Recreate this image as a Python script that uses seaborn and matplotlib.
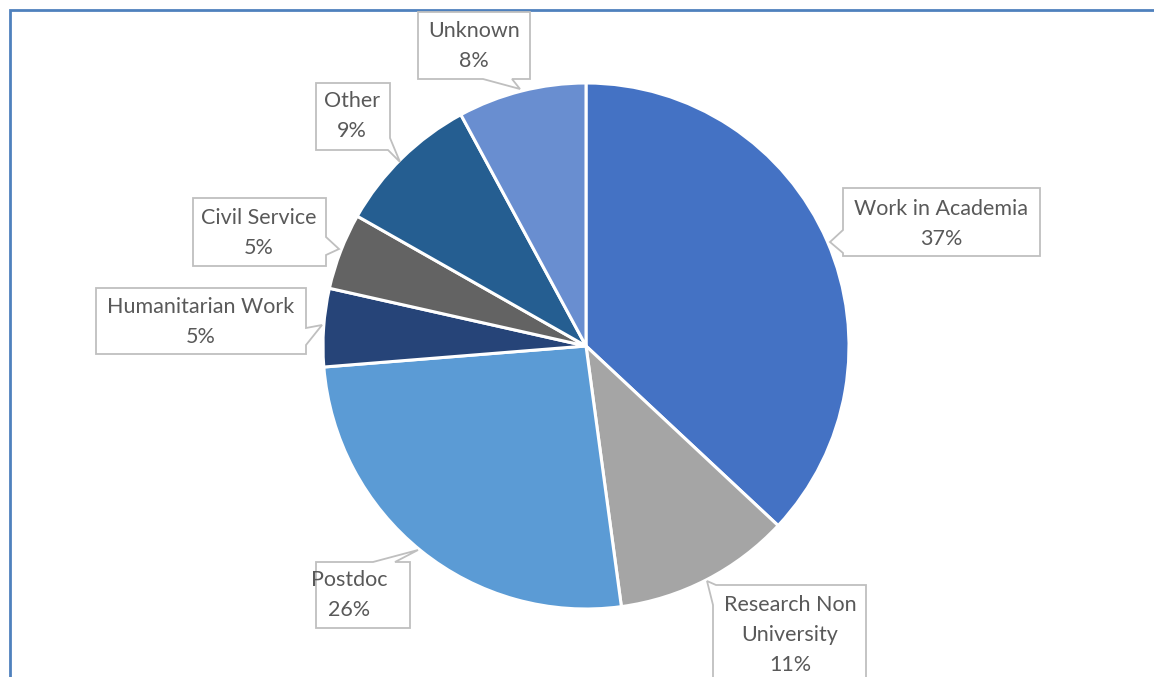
import matplotlib
matplotlib.use("Agg")
import matplotlib.pyplot as plt
import seaborn as sns
from matplotlib.patches import Polygon, Rectangle

# ---- data ----
categories = ["Work in Academia", "Research Non\nUniversity", "Postdoc",
              "Humanitarian Work", "Civil Service", "Other", "Unknown"]
shares = [37.0, 10.9, 25.9, 4.8, 4.7, 8.9, 7.9]
colors = ["#4472C4", "#A5A5A5", "#5B9BD5", "#264478", "#636363", "#255E91", "#698ED0"]

W, H = 1154, 677
sns.set_theme(style="white")
plt.rcParams['font.family'] = ['Lato', 'DejaVu Sans']

fig = plt.figure(figsize=(W / 100, H / 100), dpi=100)
ax = fig.add_axes([0, 0, 1, 1])

def P(x, y):
    return (x, H - y)

cx, cy = P(586, 346)
ax.pie(shares, colors=colors, startangle=90, counterclock=False,
       center=(cx, cy), radius=263,
       wedgeprops=dict(edgecolor="white", linewidth=2.2))
ax.set_xlim(0, W)
ax.set_ylim(0, H)
ax.set_aspect("equal")
ax.axis("off")

# outer chart border
ax.add_patch(Rectangle(P(10, 690), 1200, 680, fill=False,
                       edgecolor="#4F81BD", linewidth=2.0, zorder=1))

# callout boxes (layout, pixel coordinates)
callouts = [
    [(843, 188), (1040, 188), (1040, 256), (843, 256), (843, 253), (830, 242), (843, 230)],
    [(716, 585), (866, 585), (866, 700), (713, 700), (713, 605), (707, 581)],
    [(316, 562), (373, 562), (418, 550), (395, 562), (410, 562), (410, 628), (316, 628)],
    [(96, 288), (306, 288), (306, 328), (322, 325), (306, 345), (306, 354), (96, 354)],
    [(193, 198), (326, 198), (326, 237), (339, 249), (326, 255), (326, 266), (193, 266)],
    [(316, 83), (390, 83), (390, 138), (400, 162), (388, 150), (316, 150)],
    [(418, 12), (530, 12), (530, 79), (512, 79), (520, 89), (483, 79), (418, 79)],
]
text_pos = [(941, 224), (790, 635), (349, 595), (201, 322), (259, 233), (352, 116), (474, 46)]

total = sum(shares)
for cat, v, poly, tp in zip(categories, shares, callouts, text_pos):
    ax.add_patch(Polygon([P(x, y) for x, y in poly], closed=True,
                         facecolor="white", edgecolor="#BFBFBF",
                         linewidth=1.3, zorder=3))
    ax.text(*P(*tp), f"{cat}\n{round(v / total * 100):.0f}%",
            ha="center", va="center", multialignment="center",
            fontsize=15.5, color="#595959", linespacing=1.65, zorder=4)

fig.savefig("out.png", dpi=100, facecolor="white")
